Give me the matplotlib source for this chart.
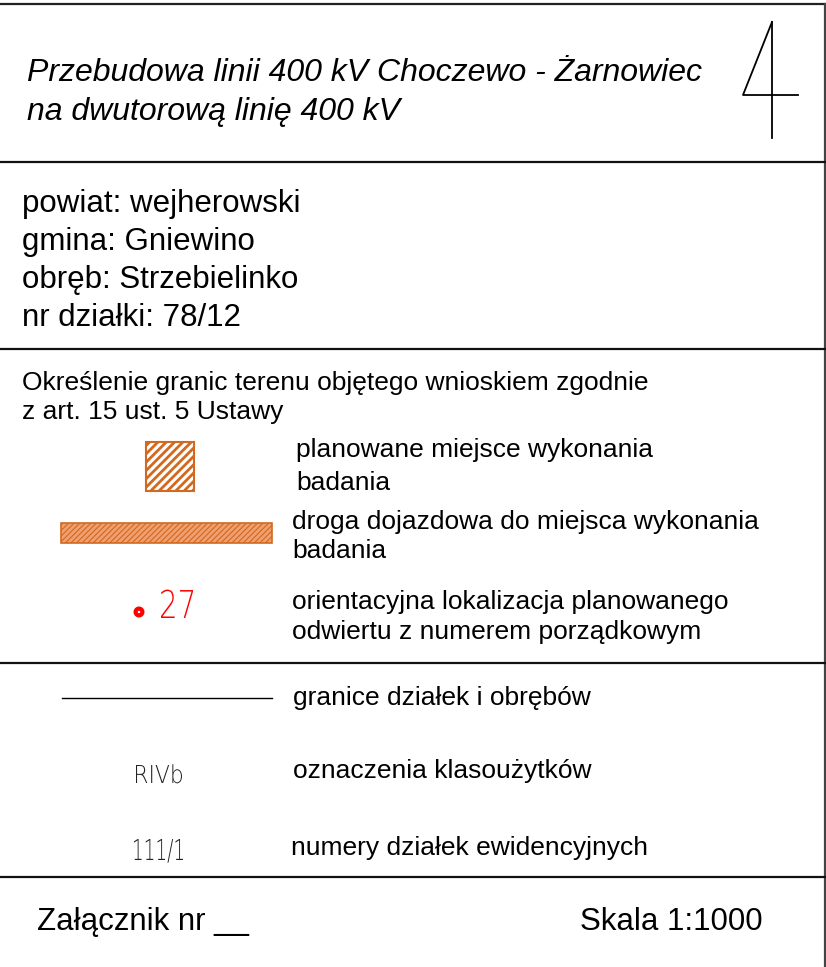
import matplotlib
matplotlib.use('Agg')
import matplotlib.pyplot as plt
from matplotlib.patches import Rectangle, Circle, PathPatch
from matplotlib.textpath import TextPath
from matplotlib.font_manager import FontProperties
from matplotlib.transforms import Affine2D

plt.rcParams['font.family'] = ['Liberation Sans', 'DejaVu Sans']
plt.rcParams['hatch.linewidth'] = 2.0

# teksty tabliczki
tytul = ['Przebudowa linii 400 kV Choczewo - Żarnowiec', 'na dwutorową linię 400 kV']
lokalizacja = ['powiat: wejherowski', 'gmina: Gniewino', 'obręb: Strzebielinko', 'nr działki: 78/12']
naglowek = ['Określenie granic terenu objętego wnioskiem zgodnie', 'z art. 15 ust. 5 Ustawy']
legenda = [['planowane miejsce wykonania', 'badania'],
           ['droga dojazdowa do miejsca wykonania', 'badania'],
           ['orientacyjna lokalizacja planowanego', 'odwiertu z numerem porządkowym'],
           ['granice działek i obrębów'],
           ['oznaczenia klasoużytków'],
           ['numery działek ewidencyjnych']]
numer_odwiertu = '27'
klasouzytek = 'RIVb'
nr_dzialki = '111/1'
zalacznik = 'Załącznik nr __'
skala = 'Skala 1:1000'

pomaranczowy = '#D2691E'
W, H = 826, 967

fig = plt.figure(figsize=(W / 100, H / 100), dpi=100)
ax = fig.add_axes([0, 0, 1, 1])
ax.set_xlim(0, W)
ax.set_ylim(H, 0)
ax.axis('off')

# ramka i linie podzialu
lw = 1.6
ax.plot([0, 825], [4, 4], color='#222222', lw=lw)
ax.plot([825, 825], [4, H], color='#444444', lw=lw)
for y in [162, 349, 663, 877]:
    ax.plot([0, 825], [y, y], color='#111111', lw=lw)

# tytul
for i, t in enumerate(tytul):
    ax.text(27, 73 + i * 39, t, fontsize=23, style='italic', va='center', ha='left')

# cyfra 4 narysowana liniami
ax.plot([772, 743, 798], [22, 95, 95], color='black', lw=1.3)
ax.plot([772, 772], [22, 138], color='black', lw=1.3)

for i, t in enumerate(lokalizacja):
    ax.text(22, 204 + i * 38, t, fontsize=22.5, va='center', ha='left')

for i, t in enumerate(naglowek):
    ax.text(22, 383 + i * 29, t, fontsize=19, va='center', ha='left')

cienka = FontProperties(family='DejaVu Sans', weight=200)


def cad_text(x, y, s, cap, szer, color):
    # waski, cienki napis w stylu czcionki CAD
    tp = TextPath((0, 0), s, size=1, prop=cienka)
    ext = tp.get_extents()
    sy = cap / 0.73
    sx = szer / ext.width
    tr = Affine2D().translate(-ext.x0, 0).scale(sx, -sy).translate(x, y)
    ax.add_patch(PathPatch(tr.transform_path(tp), color=color, lw=0))


# symbole legendy
ax.add_patch(Rectangle((146, 442), 48, 49, facecolor='white', edgecolor=pomaranczowy,
                       hatch='////', lw=1.5))
ax.add_patch(Rectangle((61, 523), 211, 20, facecolor=pomaranczowy, edgecolor='#F0A070',
                       hatch='//////', lw=0))
ax.add_patch(Rectangle((61, 523), 211, 20, facecolor='none', edgecolor=pomaranczowy, lw=1.2))
ax.add_patch(Circle((139, 612), 3.4, facecolor='white', edgecolor='red', lw=3.0))
cad_text(161, 618, numer_odwiertu, 28, 32, 'red')
ax.plot([62, 272], [698, 698], color='black', lw=1.0)
cad_text(136, 783, klasouzytek, 18, 46, '#222222')
cad_text(134, 860, nr_dzialki, 21, 49, '#222222')

legenda_y = [[450, 483], [522, 551], [602, 632], [698], [771], [848]]
legenda_x = [296, 292, 292, 293, 293, 291]
for linie, ys, x in zip(legenda, legenda_y, legenda_x):
    for t, y in zip(linie, ys):
        ax.text(x, y, t, fontsize=19, va='center', ha='left')

ax.text(37, 922, zalacznik, fontsize=22.5, va='center', ha='left')
ax.text(763, 922, skala, fontsize=22.5, va='center', ha='right')

fig.savefig('out.png', dpi=100)
